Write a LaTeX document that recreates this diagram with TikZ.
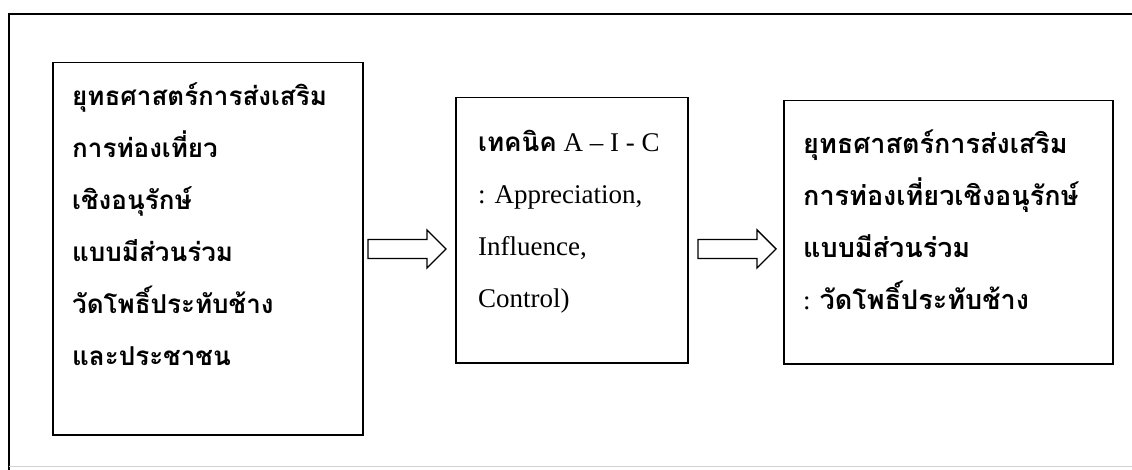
\documentclass[tikz,border=0pt]{standalone}
\usepackage{fontspec}
\setmainfont{Liberation Serif}
\newfontfamily\thai[Script=Thai]{Loma}
\begin{document}
\begin{tikzpicture}[x=1pt,y=-1pt,
  boxstyle/.style={draw,line width=1.5pt,inner sep=0pt,anchor=north west},
  txtstyle/.style={anchor=north west,inner sep=0pt,align=left,font=\fontsize{26}{52}\selectfont},
  arrowstyle/.style={draw,line width=1.4pt,line join=miter}]
\useasboundingbox (0,0) rectangle (1132,470);
% outer frame (top and left visible)
\draw[line width=1.2pt] (1132,14) -- (9,14) -- (9,470);
\draw[line width=0.6pt,gray!35] (9,466) -- (1132,466);
% boxes
\node[boxstyle,minimum width=310pt,minimum height=372pt] (b1) at (52,62) {};
\node[boxstyle,minimum width=232pt,minimum height=265pt] (b2) at (455,97) {};
\node[boxstyle,minimum width=329pt,minimum height=263pt] (b3) at (783,100) {};
% texts
\node[txtstyle] (t1) at (72,82) {\thai\bfseries ยุทธศาสตร์การส่งเสริม\\\thai\bfseries การท่องเที่ยว\\\thai\bfseries เชิงอนุรักษ์\\\thai\bfseries แบบมีส่วนร่วม\\\thai\bfseries วัดโพธิ์ประทับช้าง\\\thai\bfseries และประชาชน};
\node[txtstyle,font=\fontsize{27}{52}\selectfont] (t2) at (478,130) {{\thai\bfseries\fontsize{26}{52}\selectfont เทคนิค} A -- I - C\\: Appreciation,\\Influence,\\Control)};
\node[txtstyle,font=\fontsize{27}{52}\selectfont] (t3) at (803,130) {\thai\bfseries ยุทธศาสตร์การส่งเสริม\\\thai\bfseries การท่องเที่ยวเชิงอนุรักษ์\\\thai\bfseries แบบมีส่วนร่วม\\: {\thai\bfseries วัดโพธิ์ประทับช้าง}};
% arrows (outlined block arrows between the boxes)
\coordinate (a1) at (368,249);
\coordinate (a2) at (698,249);
\foreach \a in {a1,a2}{
  \draw[arrowstyle] ([shift={(0,-9.5)}]\a) -- ++(59,0) -- ++(0,-9.5) -- ([shift={(78,0)}]\a)
     -- ([shift={(59,19)}]\a) -- ++(0,-9.5) -- ([shift={(0,9.5)}]\a) -- cycle;
}
\end{tikzpicture}
\end{document}
